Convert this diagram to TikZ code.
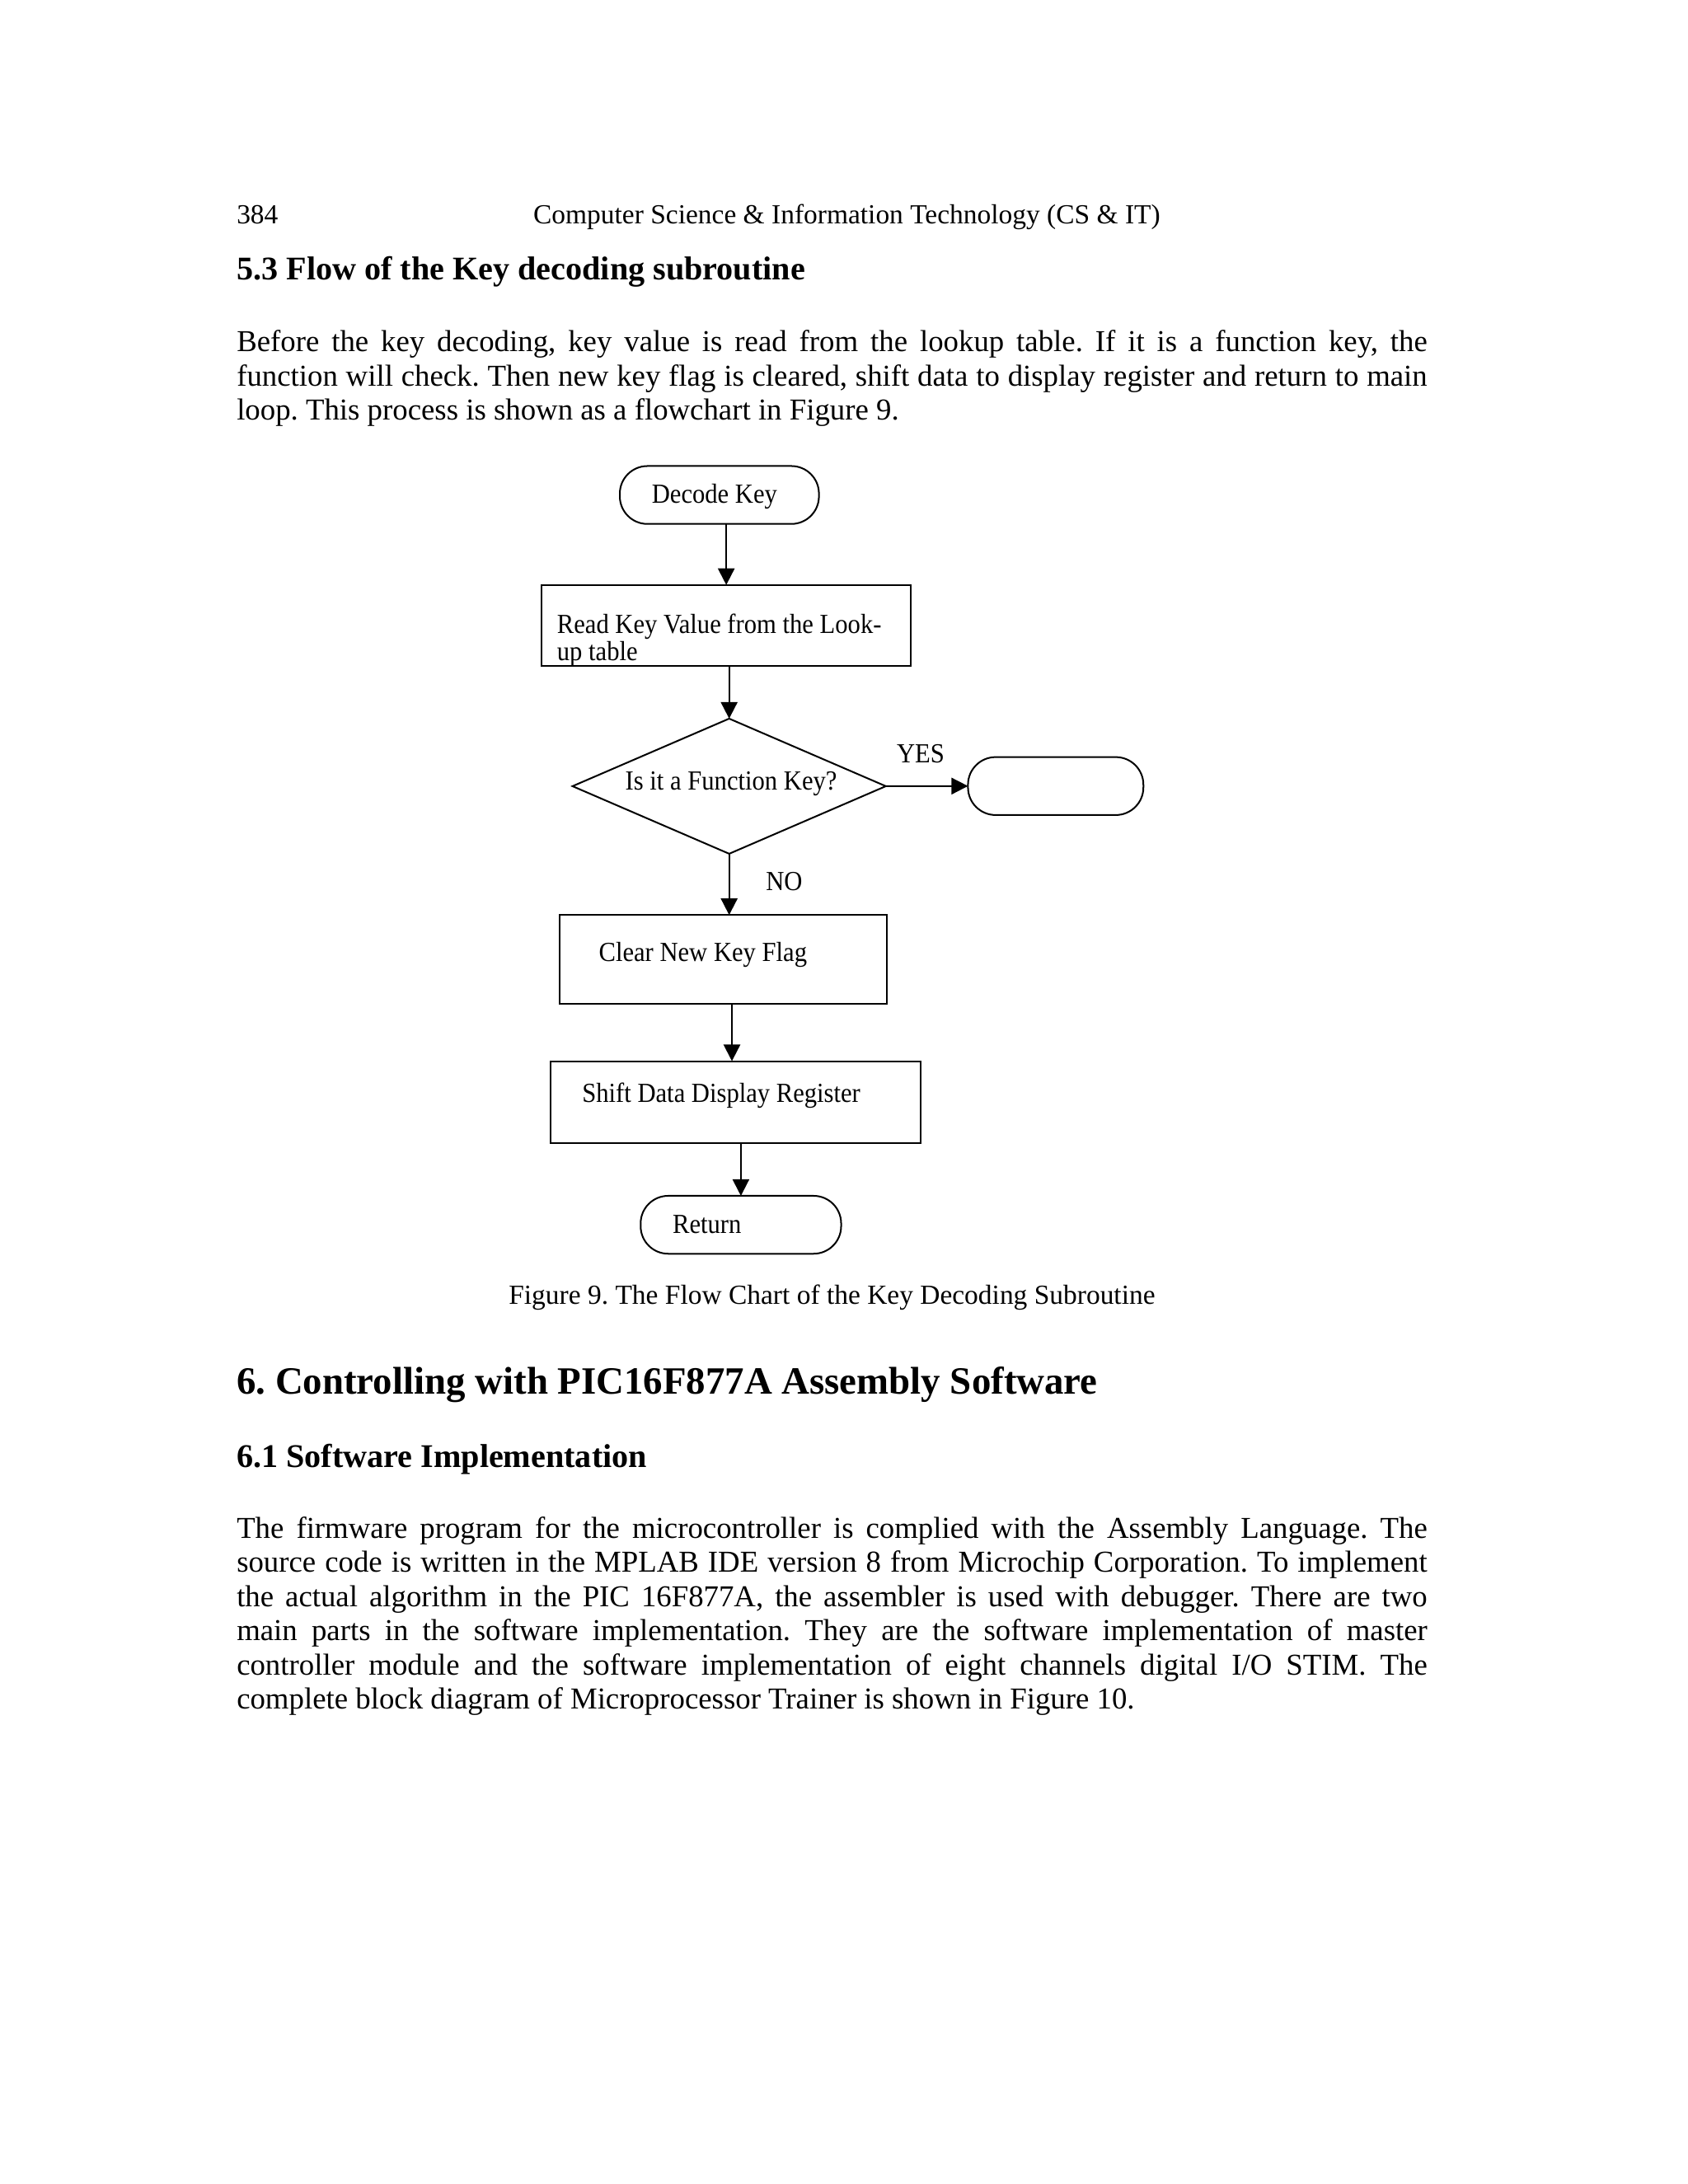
\documentclass[tikz,border=0pt]{standalone}
\usepackage{fontspec}
\setmainfont{Liberation Serif}
\newfontfamily\chartfont[FakeStretch=0.915]{Liberation Serif}
\usetikzlibrary{arrows.meta}
\usetikzlibrary{shapes.geometric}
\setlength{\parindent}{0pt}
\frenchspacing
\tolerance=9999
\hbadness=10000
\hyphenpenalty=10000

\begin{document}
\begin{tikzpicture}[x=0.5pt, y=-0.5pt,
    every node/.style={inner sep=0pt, outer sep=0pt},
    txt/.style={anchor=base west},
    chart/.style={txt, font=\chartfont\fontsize{10}{10}\selectfont, align=left},
    para/.style={txt, text width=431.7pt, align=justify, font=\fontsize{11}{12.4}\selectfont},
    term/.style={draw, line width=0.6pt, rounded corners=10pt, minimum height=21pt},
    blk/.style={draw, line width=0.6pt, rectangle},
    ask/.style={draw, line width=0.6pt, diamond, minimum width=113.6pt, minimum height=49pt},
    arr/.style={line width=0.6pt, -{Triangle[length=6pt, width=6pt]}}]
    \useasboundingbox[fill=white] (0,0) rectangle (1224,1584);

    \node[txt, font=\fontsize{10}{12}\selectfont] (pageno) at (171.7,162) {384};
    \node[txt, font=\fontsize{10}{12}\selectfont] (journal) at (386.8,162) {Computer Science \& Information Technology (CS \& IT)};
    \node[txt, font=\bfseries\fontsize{12}{14}\selectfont] (sec53) at (171.7,203) {5.3 Flow of the Key decoding subroutine};
    \node[para] (intro) at (171.7,255) {Before the key decoding, key value is read from the lookup table. If it is a function key, the\linebreak function will check. Then new key flag is cleared, shift data to display register and return to main\linebreak loop. This process is shown as a flowchart in Figure 9.};

    \node[term, minimum width=72.2pt] (decode) at (521.7,359) {};
    \node[blk, minimum width=133.8pt, minimum height=29.25pt] (read) at (526.7,453.5) {};
    \node[ask] (func) at (528.8,570.2) {};
    \node[term, minimum width=63.6pt] (yes) at (765.6,570.1) {};
    \node[blk, minimum width=118.7pt, minimum height=32.3pt] (clear) at (524.7,695.9) {};
    \node[blk, minimum width=134.3pt, minimum height=29.8pt] (shift) at (533.3,799.4) {};
    \node[term, minimum width=72.7pt] (ret) at (537.3,888.3) {};

    \node[chart] (decodetxt) at (472.7,365) {Decode Key};
    \node[chart] (readtxt) at (404,479.2) {Read Key Value from the Look-\\up table};
    \node[chart] (functxt) at (453.5,572.7) {Is it a Function Key?};
    \node[chart] (yestxt) at (650.4,553.4) {YES};
    \node[chart] (notxt) at (555.5,646) {NO};
    \node[chart] (cleartxt) at (434.3,697.2) {Clear New Key Flag};
    \node[chart] (shifttxt) at (422.2,799.7) {Shift Data Display Register};
    \node[chart] (rettxt) at (487.8,894.5) {Return};

    \draw[arr] (decode.south -| read.north) -- (read.north);
    \draw[arr] (read.south -| func.north) -- (func.north);
    \draw[arr] (func.east) -- (yes.west);
    \draw[arr] (func.south) -- (func.south |- clear.north);
    \draw[arr] ([xshift=1pt]clear.south -| func.south) -- ([xshift=1pt]func.south |- shift.north);
    \draw[arr] (shift.south -| ret.north) -- (ret.north);

    \node[anchor=base, font=\fontsize{10}{12}\selectfont] (caption) at (603.4,946) {Figure 9. The Flow Chart of the Key Decoding Subroutine};

    \node[txt, font=\bfseries\fontsize{14}{16}\selectfont] (sec6) at (171.7,1011) {6. Controlling with PIC16F877A Assembly Software};
    \node[txt, font=\bfseries\fontsize{12}{14}\selectfont] (sec61) at (171.7,1064) {6.1 Software Implementation};
    \node[para] (impl) at (171.7,1115.5) {The firmware program for the microcontroller is complied with the Assembly Language. The\linebreak source code is written in the MPLAB IDE version 8 from Microchip Corporation. To implement\linebreak the actual algorithm in the PIC 16F877A, the assembler is used with debugger. There are two\linebreak main parts in the software implementation. They are the software implementation of master\linebreak controller module and the software implementation of eight channels digital I/O STIM. The\linebreak complete block diagram of Microprocessor Trainer is shown in Figure 10.};
\end{tikzpicture}
\end{document}
